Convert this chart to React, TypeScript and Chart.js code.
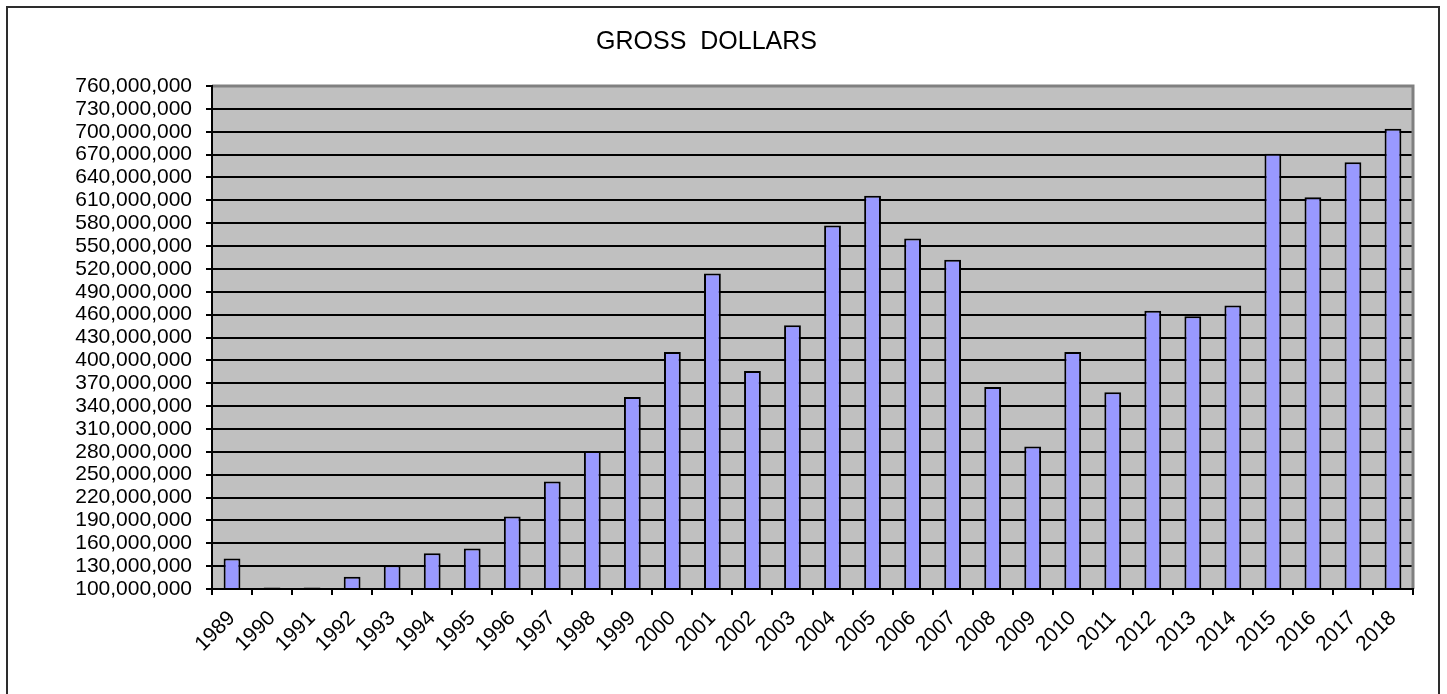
import React, { useEffect, useRef } from "react";
import { Chart, registerables } from "chart.js";

Chart.register(...registerables);

const chartTitle = "GROSS  DOLLARS";

const years = [
  "1989", "1990", "1991", "1992", "1993", "1994", "1995", "1996", "1997", "1998",
  "1999", "2000", "2001", "2002", "2003", "2004", "2005", "2006", "2007", "2008",
  "2009", "2010", "2011", "2012", "2013", "2014", "2015", "2016", "2017", "2018",
];

const grossDollars = [
  140000000, 102000000, 102000000, 116000000, 131000000, 147000000, 153000000, 195000000, 241000000, 281000000,
  352000000, 411000000, 514000000, 386000000, 446000000, 577000000, 616000000, 560000000, 532000000, 365000000,
  287000000, 411000000, 358000000, 465000000, 458000000, 472000000, 671000000, 614000000, 660000000, 704000000,
];

const yMin = 100000000;
const yMax = 760000000;
const yStep = 30000000;

const FONT = "'Liberation Sans', Arial, sans-serif";

const plotDecor = {
  id: "plotDecor",
  beforeDraw(chart: any) {
    const { ctx, chartArea } = chart;
    ctx.save();
    ctx.fillStyle = "#C0C0C0";
    ctx.fillRect(chartArea.left, chartArea.top, chartArea.right - chartArea.left, chartArea.bottom - chartArea.top);
    ctx.restore();
  },
  afterDraw(chart: any) {
    const { ctx, chartArea } = chart;
    const { left, right, top, bottom } = chartArea;
    ctx.save();
    ctx.strokeStyle = "#808080";
    ctx.lineWidth = 3;
    ctx.beginPath();
    ctx.moveTo(left, top);
    ctx.lineTo(right, top);
    ctx.lineTo(right, bottom);
    ctx.stroke();
    ctx.strokeStyle = "#000";
    ctx.lineWidth = 2;
    ctx.beginPath();
    ctx.moveTo(left, top - 1);
    ctx.lineTo(left, bottom);
    ctx.lineTo(right + 1, bottom);
    ctx.stroke();
    ctx.restore();
  },
};

export default function App() {
  const canvasRef = useRef<HTMLCanvasElement | null>(null);

  useEffect(() => {
    const canvas = canvasRef.current;
    if (!canvas) return;
    const chart = new Chart(canvas, {
      type: "bar",
      data: {
        labels: years,
        datasets: [
          {
            label: "Gross Dollars",
            data: grossDollars,
            backgroundColor: "#9999FF",
            borderColor: "#000000",
            borderWidth: 2,
            categoryPercentage: 1,
            barPercentage: 0.42,
          },
        ],
      },
      plugins: [plotDecor],
      options: {
        responsive: false,
        animation: false,
        layout: { padding: { left: 0, right: 34, top: 0, bottom: 0 } },
        plugins: {
          legend: { display: false },
          tooltip: { enabled: false },
          title: {
            display: true,
            text: chartTitle,
            color: "#000",
            font: { family: FONT, size: 25, weight: "normal", lineHeight: 1.2 },
            padding: { top: 27, bottom: 29 },
          },
        },
        scales: {
          x: {
            offset: true,
            grid: {
              offset: true,
              display: true,
              drawOnChartArea: false,
              drawTicks: true,
              tickLength: 6,
              color: "#000",
              lineWidth: 2,
            },
            border: { display: false },
            ticks: {
              color: "#000",
              font: { family: FONT, size: 21 },
              minRotation: 45,
              maxRotation: 45,
              autoSkip: false,
              padding: 11,
            },
            afterFit(scale: any) {
              scale.height = 105;
            },
          },
          y: {
            min: yMin,
            max: yMax,
            grid: {
              color: "#000",
              lineWidth: 2,
              drawTicks: true,
              tickLength: 6,
            },
            border: { display: false },
            ticks: {
              stepSize: yStep,
              color: "#000",
              font: { family: FONT, size: 21 },
              padding: 14,
              autoSkip: false,
              callback: (v: any) => Number(v).toLocaleString("en-US"),
            },
            afterFit(scale: any) {
              scale.width = 212;
            },
          },
        },
      },
    });
    return () => chart.destroy();
  }, []);

  return (
    <div style={{ position: "absolute", left: 0, top: 0, width: 1447, height: 694, overflow: "hidden", background: "#fff" }}>
      <canvas ref={canvasRef} width={1447} height={694} style={{ position: "absolute", left: 0, top: 0, width: 1447, height: 694 }} />
      <div
        style={{
          position: "absolute",
          left: 6,
          top: 6,
          width: 1434,
          height: 700,
          border: "2px solid #2d2d2d",
          boxSizing: "border-box",
          pointerEvents: "none",
        }}
      />
    </div>
  );
}
